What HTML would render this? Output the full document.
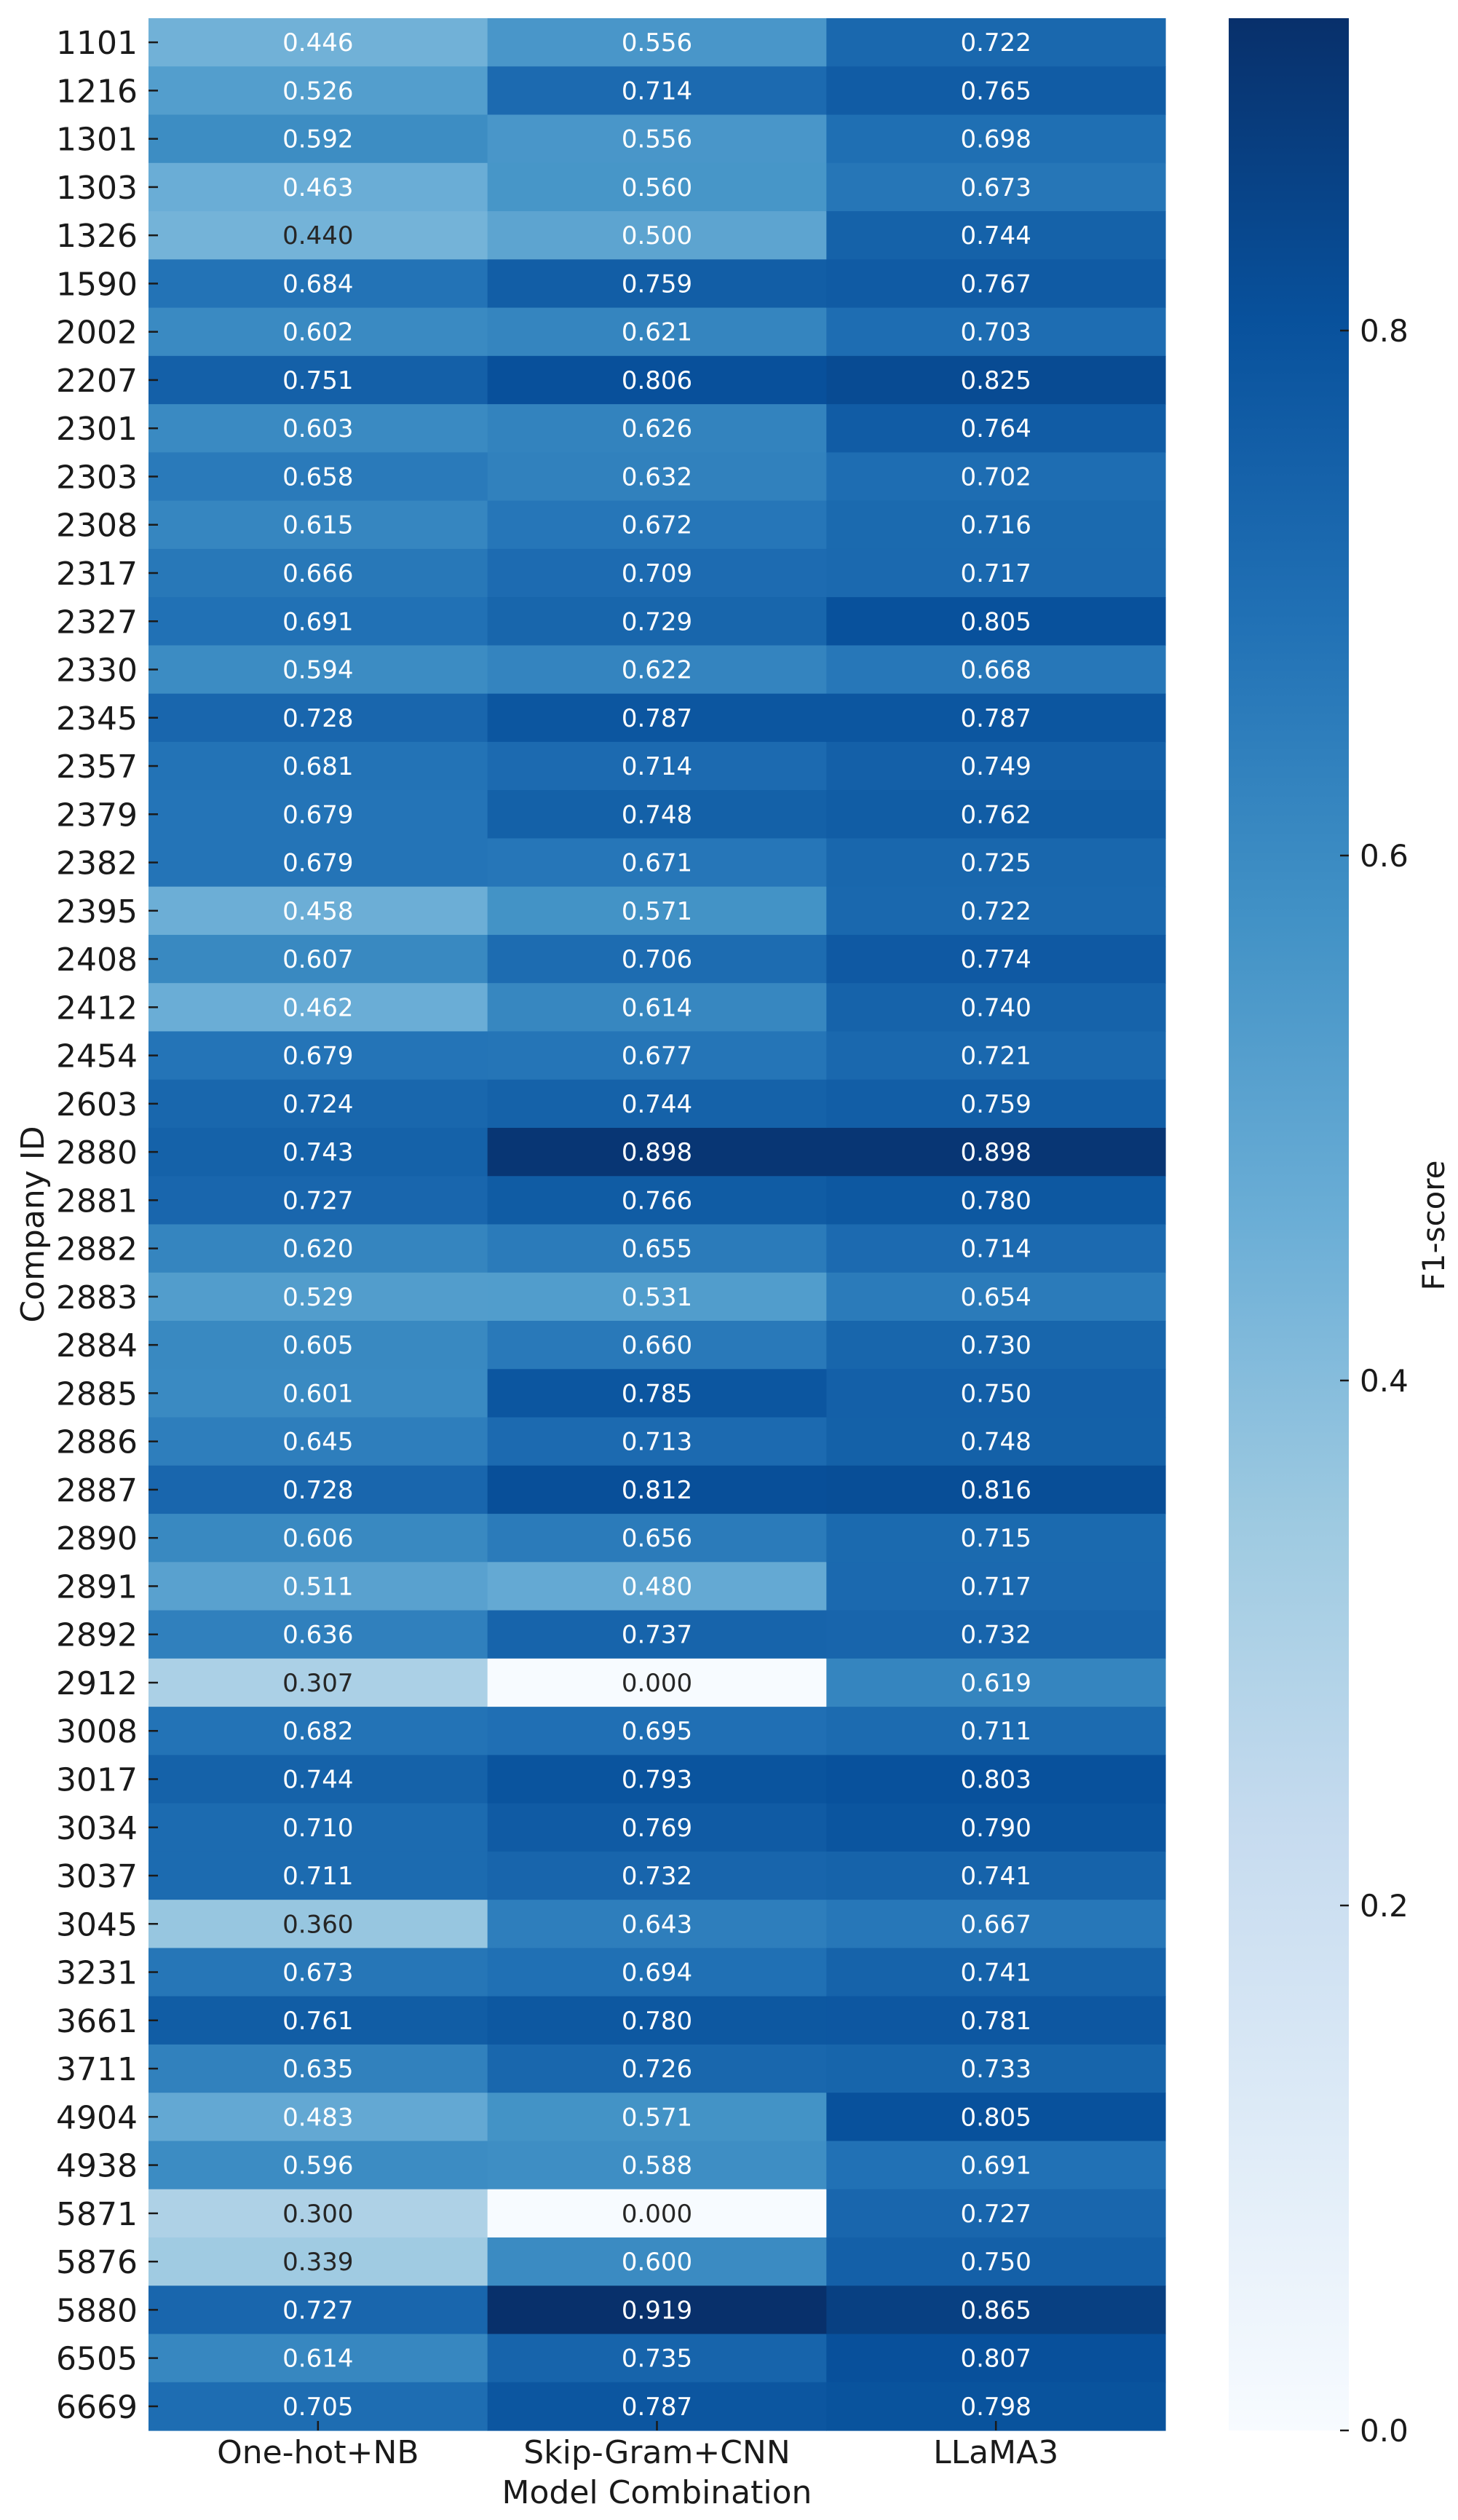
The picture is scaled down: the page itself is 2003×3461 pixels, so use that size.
<!DOCTYPE html>
<html><head><meta charset="utf-8">
<style>
html,body{margin:0;padding:0;background:#fff;}
svg{display:block;font-family:"DejaVu Sans","Liberation Sans",sans-serif;}
</style></head>
<body>
<svg id="chart" width="2003" height="3461" viewBox="0 0 2003 3461" xmlns="http://www.w3.org/2000/svg"></svg>
<script>
const companies = ["1101","1216","1301","1303","1326","1590","2002","2207","2301","2303","2308","2317","2327","2330","2345","2357","2379","2382","2395","2408","2412","2454","2603","2880","2881","2882","2883","2884","2885","2886","2887","2890","2891","2892","2912","3008","3017","3034","3037","3045","3231","3661","3711","4904","4938","5871","5876","5880","6505","6669"];
const models = ["One-hot+NB","Skip-Gram+CNN","LLaMA3"];
const onehotNB = [0.446,0.526,0.592,0.463,0.440,0.684,0.602,0.751,0.603,0.658,0.615,0.666,0.691,0.594,0.728,0.681,0.679,0.679,0.458,0.607,0.462,0.679,0.724,0.743,0.727,0.620,0.529,0.605,0.601,0.645,0.728,0.606,0.511,0.636,0.307,0.682,0.744,0.710,0.711,0.360,0.673,0.761,0.635,0.483,0.596,0.300,0.339,0.727,0.614,0.705];
const skipgramCNN = [0.556,0.714,0.556,0.560,0.500,0.759,0.621,0.806,0.626,0.632,0.672,0.709,0.729,0.622,0.787,0.714,0.748,0.671,0.571,0.706,0.614,0.677,0.744,0.898,0.766,0.655,0.531,0.660,0.785,0.713,0.812,0.656,0.480,0.737,0.000,0.695,0.793,0.769,0.732,0.643,0.694,0.780,0.726,0.571,0.588,0.000,0.600,0.919,0.735,0.787];
const llama3 = [0.722,0.765,0.698,0.673,0.744,0.767,0.703,0.825,0.764,0.702,0.716,0.717,0.805,0.668,0.787,0.749,0.762,0.725,0.722,0.774,0.740,0.721,0.759,0.898,0.780,0.714,0.654,0.730,0.750,0.748,0.816,0.715,0.717,0.732,0.619,0.711,0.803,0.790,0.741,0.667,0.741,0.781,0.733,0.805,0.691,0.727,0.750,0.865,0.807,0.798];
const cbarTicks = [0.0,0.2,0.4,0.6,0.8];
const vmin = 0, vmax = 0.919;

const NS = "http://www.w3.org/2000/svg";
const svg = document.getElementById("chart");
const L = 204, R = 1601, T = 25, B = 3338;
const colW = (R - L) / models.length, rowH = (B - T) / companies.length;
const xCol = i => L + i * colW;
const yRow = j => T + j * rowH;
const cbL = 1688, cbR = 1853;
const yCb = v => B - (v - vmin) / (vmax - vmin) * (B - T);

const stops = ["#f7fbff","#deebf7","#c6dbef","#9ecae1","#6baed6","#4292c6","#2171b5","#08519c","#08306b"].map(h=>[parseInt(h.slice(1,3),16),parseInt(h.slice(3,5),16),parseInt(h.slice(5,7),16)]);
function blues(t){
  t = Math.max(0, Math.min(1, t));
  const p = t * 8, i = Math.min(7, Math.floor(p)), f = p - i;
  const c = stops[i].map((a,k)=>Math.round(a + (stops[i+1][k]-a)*f));
  return "rgb(" + c.join(",") + ")";
}
function mk(tag, attrs, parent){
  const e = document.createElementNS(NS, tag);
  for (const k in attrs) e.setAttribute(k, attrs[k]);
  (parent || svg).appendChild(e);
  return e;
}
const series = [onehotNB, skipgramCNN, llama3];
const cells = mk("g", {});


series.forEach((vals, i) => {
  vals.forEach((v, j) => {
    const r = mk("rect", {x: xCol(i), y: yRow(j), width: colW + 0.6, height: rowH + 0.6, fill: blues((v - vmin)/(vmax - vmin))}, cells);
    
    
    const t = mk("text", {x: xCol(i) + colW/2, y: yRow(j) + rowH/2 + 12, "text-anchor": "middle", "font-size": 34, fill: v < 0.443 ? "#262626" : "#ffffff"}, cells);
    t.textContent = v.toFixed(3);
    
    
  });
});
companies.forEach((c, j) => {
  const yc = yRow(j) + rowH/2;
  const tk = mk("line", {x1: L, x2: L + 13, y1: yc, y2: yc, stroke: "#1a1a1a", "stroke-width": 2.5});
  
  
  const t = mk("text", {x: 189, y: yc + 16, "text-anchor": "end", "font-size": 44, fill: "#1a1a1a"});
  t.textContent = c;
  
  
});
models.forEach((m, i) => {
  const xc = xCol(i) + colW/2;
  const tk = mk("line", {x1: xc, x2: xc, y1: B - 13, y2: B, stroke: "#1a1a1a", "stroke-width": 2.5});
  
  
  const t = mk("text", {x: xc, y: 3383, "text-anchor": "middle", "font-size": 44, fill: "#1a1a1a"});
  t.textContent = m;
  
  
});
const xt = mk("text", {x: (L+R)/2, y: 3438, "text-anchor": "middle", "font-size": 44, fill: "#1a1a1a"});
xt.textContent = "Model Combination";


const yt = mk("text", {x: 0, y: 0, transform: "translate(60," + ((T+B)/2) + ") rotate(-90)", "text-anchor": "middle", "font-size": 44, fill: "#1a1a1a"});
yt.textContent = "Company ID";


const defs = mk("defs", {});
const lg = mk("linearGradient", {id: "cbg", x1: 0, y1: 1, x2: 0, y2: 0}, defs);
for (let k = 0; k <= 16; k++) mk("stop", {offset: k/16, "stop-color": blues(k/16)}, lg);
const cb = mk("rect", {x: cbL, y: T, width: cbR - cbL, height: B - T, fill: "url(#cbg)"});


cbarTicks.forEach(v => {
  const y = yCb(v);
  const tk = mk("line", {x1: cbR - 12, x2: cbR, y1: y, y2: y, stroke: "#1a1a1a", "stroke-width": 2.5});
  
  
  const t = mk("text", {x: 1868, y: y + 15, "font-size": 42, fill: "#1a1a1a"});
  t.textContent = v.toFixed(1);
  
  
});
const ct = mk("text", {x: 0, y: 0, transform: "translate(1984,1683) rotate(-90)", "text-anchor": "middle", "font-size": 42, fill: "#1a1a1a"});
ct.textContent = "F1-score";


</script>
</body></html>
